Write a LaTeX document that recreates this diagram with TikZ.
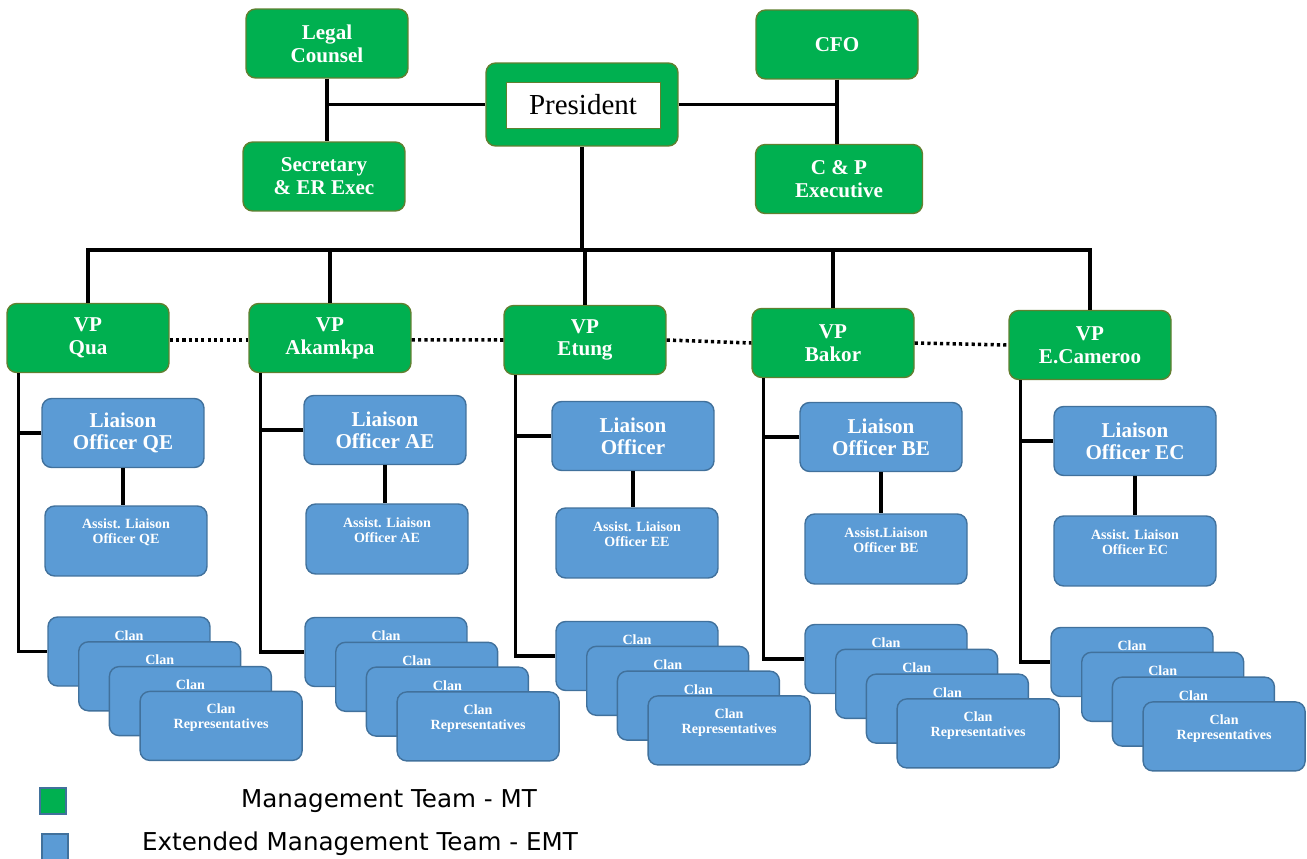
\documentclass[tikz,border=0pt]{standalone}
\usepackage{fontspec}
\setmainfont{Liberation Serif}
\newfontfamily\legendfont{DejaVu Sans}
\usetikzlibrary{calc}
\definecolor{mtgreen}{RGB}{0,176,80}
\definecolor{mtedge}{RGB}{96,128,48}
\definecolor{emtblue}{RGB}{91,155,213}
\definecolor{emtedge}{RGB}{65,113,156}
\tikzset{
  box/.style={rounded corners=5.5pt, line width=0.8pt, inner sep=0pt, align=center,
    text=white, minimum width=3.24cm, minimum height=1.38cm},
  mt/.style={box, fill=mtgreen, draw=mtedge, font=\bfseries\fontsize{12}{13}\selectfont},
  emt/.style={box, fill=emtblue, draw=emtedge, font=\bfseries\fontsize{12}{12.5}\selectfont},
  boxtext/.style={inner sep=0pt, align=center, text=white, font=\bfseries\fontsize{8}{8.5}\selectfont},
  link/.style={line width=1.9pt},
  peer/.style={line width=2pt, dash pattern=on 1.8pt off 1.8pt},
  legsq/.style={draw=emtedge, line width=0.8pt, minimum size=0.52cm, inner sep=0pt},
  legtext/.style={inner sep=0pt, font=\legendfont\fontsize{14}{16}\selectfont}
}
\begin{document}
\begin{tikzpicture}[x=0.02cm, y=-0.02cm]
    \useasboundingbox (0,0) rectangle (1307,858);
    % top management
    \node[mt] (legal) at (327,43.5) {Legal\\Counsel};
    \node[mt] (sec) at (324,176.5) {Secretary\\\& ER Exec};
    \node[mt] (cfo) at (837,44.5) {CFO};
    \node[mt, minimum width=3.34cm] (cp) at (839,179) {C \& P\\Executive};
    \node[mt, minimum width=3.84cm, minimum height=1.66cm] (pres) at (582,104.5) {};
    \node[draw=mtedge, line width=0.5pt, fill=white, minimum width=3.08cm, minimum height=0.92cm,
      inner sep=0pt, font=\fontsize{16.5}{18}\selectfont] (prestext) at (583,105) {President};
    \draw[link] (legal.south) -- (legal.south |- sec.north);
    \draw[link] (pres.west) -- (pres.west -| legal.south);
    \draw[link] (pres.east) -- (pres.east -| cfo.south);
    \draw[link] (cfo.south) -- (cfo.south |- cp.north);
    % vice presidents
    \coordinate (bus) at (581,250);
    \node[mt] (vq) at (88,338) {VP\\Qua};
    \node[mt] (va) at (330,338) {VP\\Akamkpa};
    \node[mt] (ve) at (585,340) {VP\\Etung};
    \node[mt] (vb) at (833,343) {VP\\Bakor};
    \node[mt] (vc) at (1090,345) {VP\\E.Cameroo};
    \draw[link] (pres.south) -- (pres.south |- bus);
    \draw[link, line cap=rect] (vq.north |- bus) -- (vc.north |- bus);
    \foreach \v in {vq,va,ve,vb,vc}
        \draw[link] (\v.north) -- (\v.north |- bus);
    \draw[peer] ([yshift=-1pt]vq.east) -- ([yshift=-1pt]va.west);
    \draw[peer] ([yshift=-1pt]va.east) -- (ve.west);
    \draw[peer] (ve.east) -- (vb.west);
    \draw[peer] (vb.east) -- (vc.west);
    % liaison officers
    \node[emt] (lq) at (123,433) {Liaison\\Officer QE};
    \node[emt] (la) at (385,430) {Liaison\\Officer AE};
    \node[emt] (le) at (633,436) {Liaison\\Officer};
    \node[emt] (lb) at (881,437) {Liaison\\Officer BE};
    \node[emt] (lc) at (1135,441) {Liaison\\Officer EC};
    % assistants
    \node[emt, minimum height=1.4cm] (aq) at (126,541) {};
    \node[emt, minimum height=1.4cm] (aa) at (387,539) {};
    \node[emt, minimum height=1.4cm] (ae) at (637,543) {};
    \node[emt, minimum height=1.4cm] (ab) at (886,549) {};
    \node[emt, minimum height=1.4cm] (ac) at (1135,551) {};
    \node[boxtext] (aqt) at ($(aq)+(0,-8.5)$) {Assist. Liaison\\Officer QE};
    \node[boxtext] (aat) at ($(aa)+(0,-8.5)$) {Assist. Liaison\\Officer AE};
    \node[boxtext] (aet) at ($(ae)+(0,-8.5)$) {Assist. Liaison\\Officer EE};
    \node[boxtext] (abt) at ($(ab)+(0,-8.5)$) {Assist.Liaison\\Officer BE};
    \node[boxtext] (act) at ($(ac)+(0,-8.5)$) {Assist. Liaison\\Officer EC};
    \foreach \s in {q,a,e,b,c}
        \draw[link] (l\s.south) -- (l\s.south |- a\s.north);
    % clan representatives, back cards show only their first word
    \foreach \s/\x/\y in {q/129/651.5, a/386/652, e/637/656, b/886/659, c/1132/662} {
        \foreach \k in {1,2,3} {
            \node[emt] (c\s\k) at ({\x+30.7*(\k-1)},{\y+24.8*(\k-1)}) {};
            \node[boxtext] (c\s\k t) at ($(c\s\k.north)+(0,19)$) {Clan};
        }
        \node[emt] (c\s4) at ({\x+92.1},{\y+74.4}) {};
        \node[boxtext] (c\s4t) at ($(c\s4.north)+(0,27)$) {Clan\\Representatives};
    }
    % spines
    \foreach \s in {q,a,e,b,c} {
        \coordinate (sp\s) at ($(v\s.south west)+(12,0)$);
        \draw[link] (sp\s) |- (c\s1.west);
        \draw[link] (l\s.west) -- (l\s.west -| sp\s);
    }
    % legend
    \node[legsq, fill=mtgreen] (lgmt) at (53,801) {};
    \node[legtext] (lgmttext) at (389,801) {Management Team - MT};
    \node[legsq, fill=emtblue] (lgemt) at (55,847) {};
    \node[legtext] (lgemttext) at (360,844) {Extended Management Team - EMT};
\end{tikzpicture}
\end{document}
